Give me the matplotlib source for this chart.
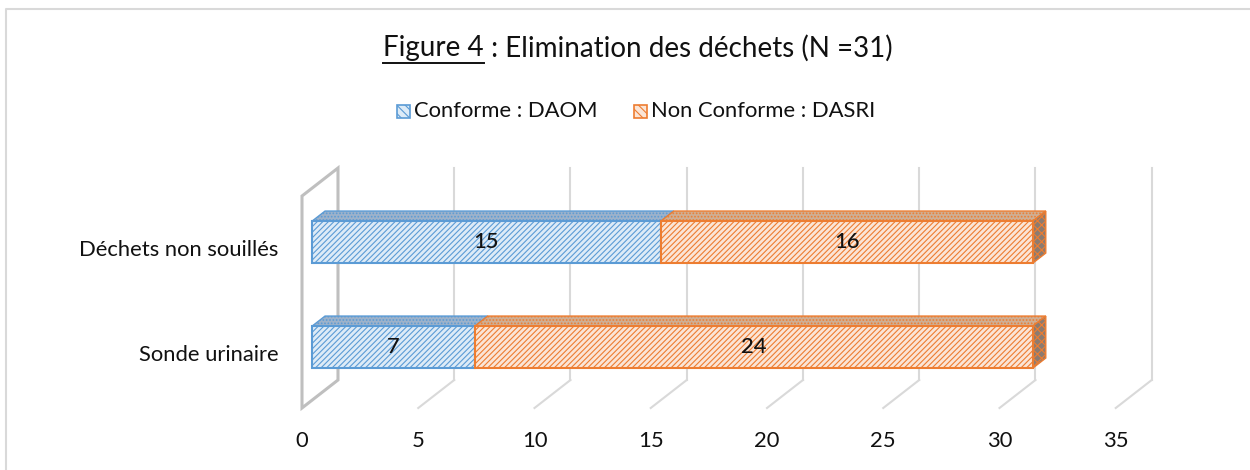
import matplotlib
matplotlib.use('Agg')
import matplotlib.pyplot as plt
from matplotlib.patches import Polygon, Rectangle
from matplotlib.lines import Line2D

plt.rcParams['font.family'] = ['Lato', 'DejaVu Sans']
plt.rcParams['hatch.linewidth'] = 0.8

# données
categories = ['Sonde urinaire', 'Déchets non souillés']
series_names = ['Conforme : DAOM', 'Non Conforme : DASRI']
conforme = [7, 15]
non_conforme = [24, 16]
xticks = [0, 5, 10, 15, 20, 25, 30, 35]
title_u = 'Figure 4'
title_rest = ' : Elimination des déchets (N =31)'

face_cols = ['#DDEBF7', '#FBE5D6']
edge_cols = ['#5B9BD5', '#ED7D31']
top_cols = ['#9DB2CA', '#CFAE93']
side_col = '#8C7B70'
grid_col = '#D9D9D9'
wall_col = '#BFBFBF'
txt = '#111111'
fs_small = 15.8

# profondeur 3D (unités de données)
DX, DY = 1.548, 0.2667
d0, d1 = 0.28, 0.64
bh = 0.4

fig = plt.figure(figsize=(12.5, 4.7), dpi=100)
ax = fig.add_axes([302 / 1250, 62 / 470, 37 * 23.25 / 1250, 2.305 * 105 / 470])
ax.set_xlim(0, 37)
ax.set_ylim(-0.505, 1.8)
ax.axis('off')

ymin = -0.505
ytop = 1.514

# grille (plan arrière + sol)
for xv in xticks[1:]:
    ax.plot([xv + DX, xv + DX], [ymin + DY, ytop + DY], color=grid_col, lw=1.5, clip_on=False, zorder=1)
    ax.plot([xv + DX, xv], [ymin + DY, ymin], color=grid_col, lw=1.5, clip_on=False, zorder=1)

# paroi gauche
ax.add_patch(Polygon([(0, ymin), (0, ytop), (DX, ytop + DY), (DX, ymin + DY)], closed=True,
                     fill=False, edgecolor=wall_col, lw=2.2, clip_on=False, zorder=1))

def shift(x, y, d):
    return (x + d * DX, y + d * DY)

ypos = list(range(len(categories)))
for i, y in enumerate(ypos):
    left = 0
    vals = [conforme[i], non_conforme[i]]
    for s, v in enumerate(vals):
        ax.barh(y + d0 * DY, v, left=left + d0 * DX, height=bh, color=face_cols[s],
                edgecolor=edge_cols[s], hatch='//////', lw=1.5, zorder=3)
        top = y + bh / 2
        ax.add_patch(Polygon([shift(left, top, d0), shift(left + v, top, d0),
                              shift(left + v, top, d1), shift(left, top, d1)], closed=True,
                             facecolor=top_cols[s], edgecolor=edge_cols[s], hatch='.....',
                             lw=1.0, zorder=2, clip_on=False))
        ax.text(left + v / 2 + d0 * DX, y + d0 * DY, str(v), ha='center', va='center',
                fontsize=fs_small, fontweight='medium', color=txt, zorder=5)
        left += v
    # face latérale
    bot = y - bh / 2
    top = y + bh / 2
    ax.add_patch(Polygon([shift(left, bot, d0), shift(left, top, d0),
                          shift(left, top, d1), shift(left, bot, d1)], closed=True,
                         facecolor=side_col, edgecolor=edge_cols[1], hatch='xxxx',
                         lw=1.0, zorder=2, clip_on=False))
    ax.text(-1.0, y, categories[i], ha='right', va='center', fontsize=fs_small, color=txt)

for xv in xticks:
    ax.text(xv, ymin - 0.31, str(xv), ha='center', va='center', fontsize=fs_small, color=txt)

# légende
for s, (xp, label) in enumerate(zip([397, 634], series_names)):
    fig.patches.append(Rectangle((xp / 1250, 1 - 118 / 470), 13 / 1250, 13 / 470,
                                 transform=fig.transFigure, facecolor=face_cols[s],
                                 edgecolor=edge_cols[s], hatch='\\\\\\\\', lw=1.2))
    fig.text((xp + 17) / 1250, 1 - 111 / 470, label, ha='left', va='center',
             fontsize=fs_small, color=txt)

# titre avec soulignement
fs = 20
fig.canvas.draw()
r = fig.canvas.get_renderer()
t1 = fig.text(0, 1 - 48 / 470, title_u, fontsize=fs, va='center', ha='left', color=txt)
t2 = fig.text(0, 1 - 48 / 470, title_rest, fontsize=fs, va='center', ha='left', color=txt)
w1 = t1.get_window_extent(r).width
w2 = t2.get_window_extent(r).width
x0 = 638 - (w1 + w2) / 2
t1.set_x(x0 / 1250)
t2.set_x((x0 + w1) / 1250)
fig.add_artist(Line2D([x0 / 1250, (x0 + w1) / 1250], [1 - 63 / 470, 1 - 63 / 470],
                      transform=fig.transFigure, color=txt, lw=1.4))

# cadre
fig.add_artist(Line2D([6 / 1250, 6 / 1250, 1.0], [0, 1 - 9 / 470, 1 - 9 / 470],
                      transform=fig.transFigure, color=grid_col, lw=1.5))

fig.savefig('out.png', dpi=100)
